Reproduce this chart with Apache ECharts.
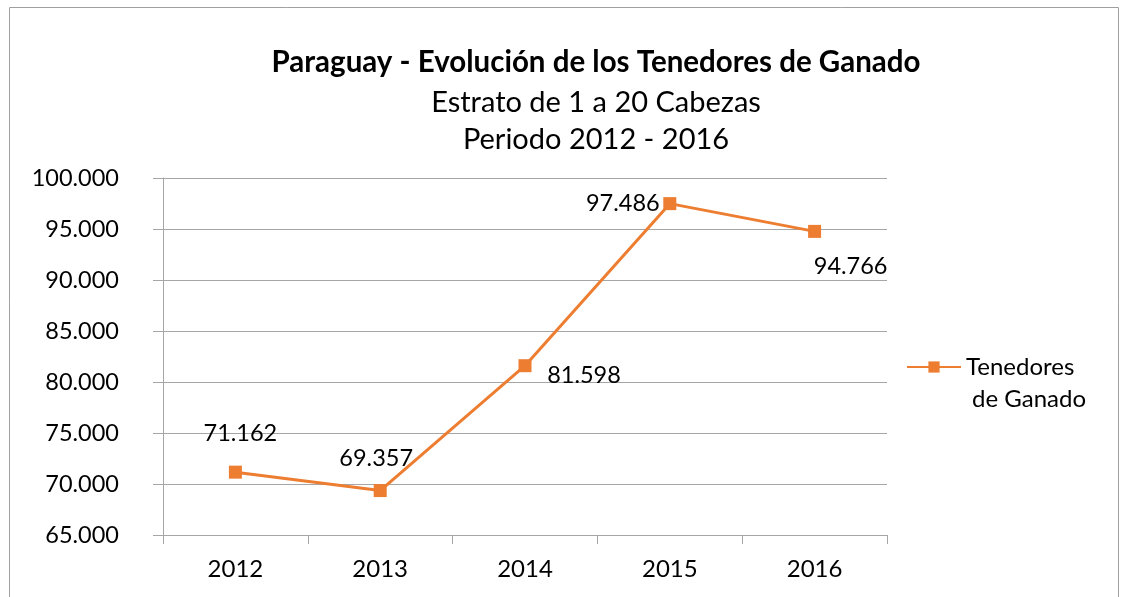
<!DOCTYPE html>
<html>
<head>
<meta charset="utf-8">
<script src="https://cdn.jsdelivr.net/npm/echarts@6/dist/echarts.min.js"></script>
<style>
    html, body { margin: 0; padding: 0; background: #fff; }
    #chart { width: 1124px; height: 597px; }
</style>
</head>
<body>
<div id="chart"></div>
<script>
// datos del grafico
var years = ['2012', '2013', '2014', '2015', '2016'];
var tenedores = [71162, 69357, 81598, 97486, 94766];
var serieName = 'Tenedores de Ganado';
var titulo = 'Paraguay - Evolución de los Tenedores de Ganado';
var subtitulo = 'Estrato de 1 a 20 Cabezas\nPeriodo 2012 - 2016';
// posicion de cada etiqueta (como en el original, movidas a mano)
var labelOffsets = [[5, -39], [-4, -32], [59, 10], [-47, 0], [36, 35]];

function miles(v) {
    return String(v).replace(/\B(?=(\d{3})+(?!\d))/g, '.');
}

var font = 'Lato, "Open Sans", sans-serif';
var gris = '#a6a6a6';

var chart1 = echarts.init(document.getElementById('chart'));
var option = {
    animation: false,
    textStyle: { fontFamily: font },
    graphic: [{
        type: 'rect',
        shape: { x: 9.5, y: 7.5, width: 1109, height: 620 },
        style: { fill: 'none', stroke: '#a0a0a0', lineWidth: 1 },
        silent: true
    }, {
        // segunda linea de la leyenda (el icono queda con la primera)
        type: 'text',
        x: 972,
        y: 399,
        silent: true,
        style: {
            text: 'de Ganado',
            font: '24px Lato, "Open Sans", sans-serif',
            fill: '#000',
            verticalAlign: 'middle'
        }
    }],
    title: {
        text: titulo,
        subtext: subtitulo,
        left: 591,
        top: 42,
        textAlign: 'center',
        itemGap: 7,
        textStyle: { fontFamily: font, fontSize: 29.5, fontWeight: 'bold', color: '#000' },
        subtextStyle: { fontFamily: font, fontSize: 29, color: '#000', lineHeight: 37 }
    },
    color: ['#ED7D31'],
    legend: {
        data: [serieName],
        orient: 'vertical',
        left: 901,
        top: 350,
        itemWidth: 54,
        itemHeight: 14,
        formatter: function () { return 'Tenedores'; },
        textStyle: { fontFamily: font, fontSize: 24, color: '#000', lineHeight: 24 }
    },
    grid: {
        left: 163,
        right: 237,
        top: 178,
        bottom: 62,
        containLabel: false
    },
    xAxis: {
        type: 'category',
        data: years,
        boundaryGap: true,
        axisLine: { lineStyle: { color: gris, width: 1 } },
        axisTick: { show: true, length: 9, lineStyle: { color: gris } },
        axisLabel: { color: '#000', fontSize: 24, margin: 22, fontFamily: font }
    },
    yAxis: {
        type: 'value',
        min: 65000,
        max: 100000,
        interval: 5000,
        axisLine: { show: true, lineStyle: { color: gris, width: 1 } },
        axisTick: { show: true, length: 10, lineStyle: { color: gris } },
        axisLabel: {
            color: '#000', fontSize: 23.5, margin: 44, fontFamily: font,
            formatter: function (v) { return miles(v); }
        },
        splitLine: { lineStyle: { color: gris, width: 1 } }
    },
    series: [{
        name: serieName,
        type: 'line',
        symbol: 'rect',
        symbolSize: 13,
        lineStyle: { width: 3, color: '#ED7D31' },
        itemStyle: { color: '#ED7D31' },
        data: tenedores.map(function (v, i) {
            return {
                value: v,
                label: { position: 'inside', offset: labelOffsets[i] }
            };
        }),
        label: {
            show: true,
            color: '#000',
            fontSize: 23.5,
            fontFamily: font,
            formatter: function (p) { return miles(p.value); }
        }
    }]
};
chart1.setOption(option, true);
</script>
</body>
</html>
